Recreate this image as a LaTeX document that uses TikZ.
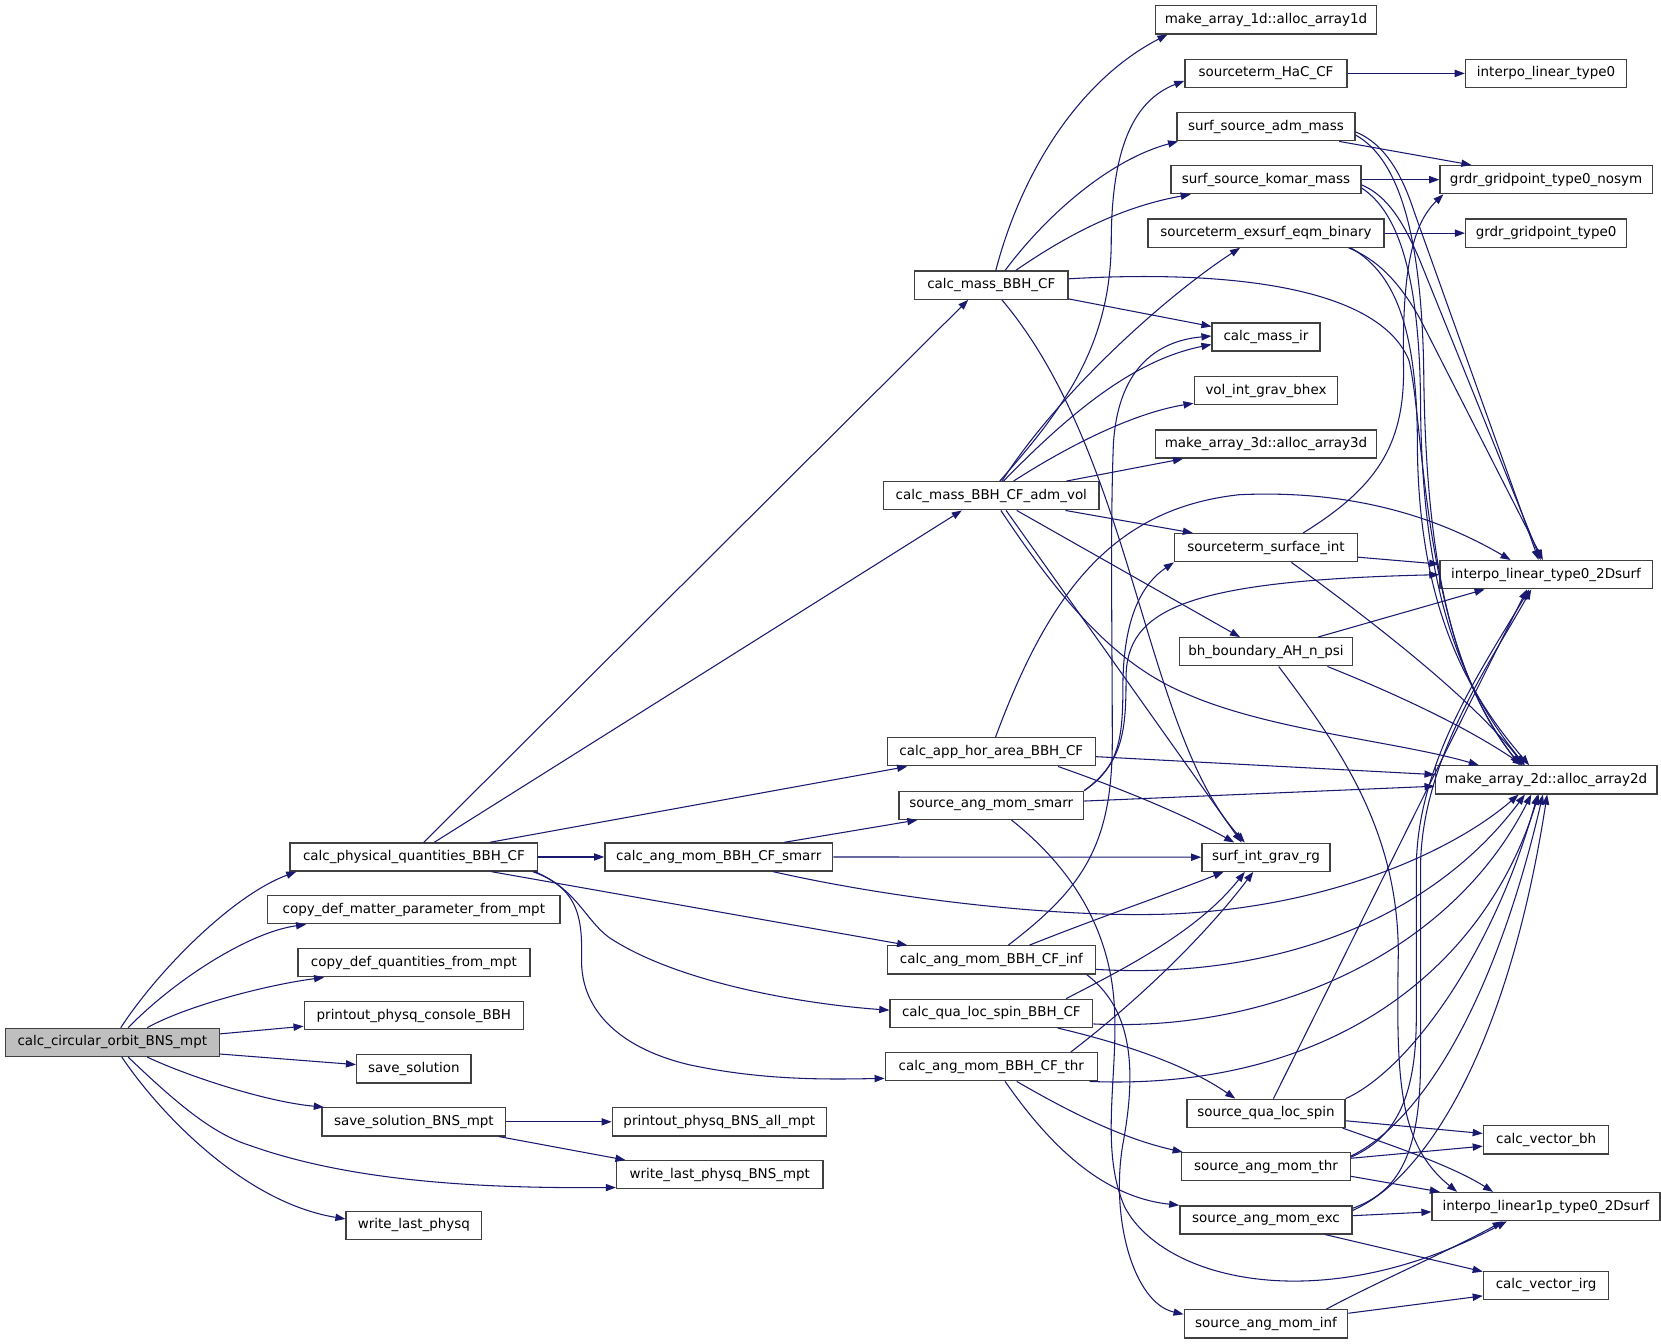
\documentclass[tikz,border=0pt]{standalone}
\usepackage{fontspec}
\setmainfont{DejaVu Sans}
\usetikzlibrary{arrows.meta,calc}
\definecolor{eb}{HTML}{191970}
\definecolor{bd}{HTML}{404040}
\definecolor{mf}{HTML}{BFBFBF}
\begin{document}
\begin{tikzpicture}[x=1pt,y=-1pt,
  box/.style={draw=bd,line width=1.25pt,minimum height=26.5pt,inner sep=0pt,fill=white,font=\fontsize{12.7pt}{15pt}\selectfont},
  e/.style={draw=eb,line width=1pt,-{Triangle[length=9.5pt,width=6.8pt]}}]
\useasboundingbox[fill=white] (0,0) rectangle (1568,1268);
% rank 0/1
\node[box,fill=mf,minimum width=202pt] (circ) at (106,984) {calc\_circular\_orbit\_BNS\_mpt};
\node[box,minimum width=234pt] (phys) at (390.7,809) {calc\_physical\_quantities\_BBH\_CF};
\node[box,minimum width=276pt] (cmatter) at (390.7,858.8) {copy\_def\_matter\_parameter\_from\_mpt};
\node[box,minimum width=219pt] (cquant) at (390.7,908.8) {copy\_def\_quantities\_from\_mpt};
\node[box,minimum width=207pt] (pconsole) at (390.7,958.8) {printout\_physq\_console\_BBH};
\node[box,minimum width=108pt] (save) at (390.7,1009) {save\_solution};
\node[box,minimum width=173.5pt] (saveBNS) at (390.7,1059) {save\_solution\_BNS\_mpt};
\node[box,minimum width=128pt] (wlast) at (390.7,1156.7) {write\_last\_physq};
% rank 2
\node[box,minimum width=202pt] (pBNSall) at (679,1059) {printout\_physq\_BNS\_all\_mpt};
\node[box,minimum width=195pt] (wlastBNS) at (679.5,1109) {write\_last\_physq\_BNS\_mpt};
\node[box,minimum width=215pt] (amsmarr) at (678.5,809) {calc\_ang\_mom\_BBH\_CF\_smarr};
% rank 3
\node[box,minimum width=145pt] (massBBH) at (935.8,269.2) {calc\_mass\_BBH\_CF};
\node[box,minimum width=203.6pt] (admvol) at (935.8,468) {calc\_mass\_BBH\_CF\_adm\_vol};
\node[box,minimum width=196.5pt] (apphor) at (935.8,709.7) {calc\_app\_hor\_area\_BBH\_CF};
\node[box,minimum width=174.2pt] (smarr) at (935.8,760.2) {source\_ang\_mom\_smarr};
\node[box,minimum width=196.5pt] (aminf) at (935.8,906.1) {calc\_ang\_mom\_BBH\_CF\_inf};
\node[box,minimum width=191.3pt] (qls) at (935.8,956.6) {calc\_qua\_loc\_spin\_BBH\_CF};
\node[box,minimum width=200.2pt] (amthr) at (935.8,1007) {calc\_ang\_mom\_BBH\_CF\_thr};
% rank 4
\node[box,minimum width=208.4pt] (arr1d) at (1195.1,18.7) {make\_array\_1d::alloc\_array1d};
\node[box,minimum width=153pt] (hac) at (1195.1,69.3) {sourceterm\_HaC\_CF};
\node[box,minimum width=168.3pt] (admmass) at (1195.1,119.6) {surf\_source\_adm\_mass};
\node[box,minimum width=179.6pt] (komar) at (1195.1,169.6) {surf\_source\_komar\_mass};
\node[box,minimum width=222.7pt] (exsurf) at (1195.1,220.1) {sourceterm\_exsurf\_eqm\_binary};
\node[box,minimum width=101.7pt] (massir) at (1195.1,318.2) {calc\_mass\_ir};
\node[box,minimum width=135.5pt] (volint) at (1195.1,368.8) {vol\_int\_grav\_bhex};
\node[box,minimum width=208.4pt] (arr3d) at (1195.1,419.2) {make\_array\_3d::alloc\_array3d};
\node[box,minimum width=172.7pt] (stsurf) at (1195.1,517) {sourceterm\_surface\_int};
\node[box,minimum width=163.6pt] (bhbound) at (1195.1,615.3) {bh\_boundary\_AH\_n\_psi};
\node[box,minimum width=121pt] (sigrg) at (1195.1,809.2) {surf\_int\_grav\_rg};
\node[box,minimum width=149.1pt] (sqls) at (1195.1,1051) {source\_qua\_loc\_spin};
\node[box,minimum width=159pt] (samthr) at (1195.1,1101.4) {source\_ang\_mom\_thr};
\node[box,minimum width=162.6pt] (samexc) at (1195.1,1151.6) {source\_ang\_mom\_exc};
\node[box,minimum width=154.3pt] (saminf) at (1195.1,1249.7) {source\_ang\_mom\_inf};
% rank 5
\node[box,minimum width=152.2pt] (ilt0) at (1459.5,69.3) {interpo\_linear\_type0};
\node[box,minimum width=200.4pt] (grdrns) at (1459.5,169.6) {grdr\_gridpoint\_type0\_nosym};
\node[box,minimum width=152pt] (grdr0) at (1459.5,220.1) {grdr\_gridpoint\_type0};
\node[box,minimum width=200.4pt] (ilt2d) at (1459.5,542.5) {interpo\_linear\_type0\_2Dsurf};
\node[box,minimum width=209.3pt] (arr2d) at (1459.5,736.2) {make\_array\_2d::alloc\_array2d};
\node[box,minimum width=118.3pt] (cvbh) at (1459.5,1076) {calc\_vector\_bh};
\node[box,minimum width=215.2pt] (il1p) at (1459.5,1139) {interpo\_linear1p\_type0\_2Dsurf};
\node[box,minimum width=118.3pt] (cvirg) at (1459.5,1213.3) {calc\_vector\_irg};
% edges from circ
\draw[e] ($(circ.north)+(8,0)$) .. controls (150,915) and (220,845) .. ($(phys.south)+(-111,0)$);
\draw[e] ($(circ.north)+(15,0)$) .. controls (165,925) and (235,880) .. ($(cmatter.south)+(-101.7,0)$);
\draw[e] ($(circ.north)+(33,0)$) .. controls (175,950) and (250,930) .. ($(cquant.south)+(-84.7,0)$);
\draw[e] ($(circ.east)+(0,-8)$) -- ($(pconsole.west)+(0,10)$);
\draw[e] ($(circ.east)+(0,11)$) -- ($(save.west)+(0,-4)$);
\draw[e] ($(circ.south)+(33,0)$) .. controls (175,1015) and (250,1040) .. ($(saveBNS.north)+(-85,0)$);
\draw[e] ($(circ.south)+(15,0)$) .. controls (165,1040) and (200,1070) .. (235,1081) .. controls (330,1115) and (450,1122) .. ($(wlastBNS.west)+(0,12)$);
\draw[e] ($(circ.south)+(9,0)$) .. controls (150,1050) and (230,1135) .. ($(wlast.west)+(0,-6)$);
\draw[e] (saveBNS.east) -- (pBNSall.west);
\draw[e] ($(saveBNS.south)+(80,0)$) -- ($(wlastBNS.north)+(-89,0)$);
% from phys
\draw[e] ($(phys.north)+(9.3,0)$) -- ($(massBBH.south)+(-21.8,0)$);
\draw[e] ($(phys.north)+(19.3,0)$) -- ($(admvol.south)+(-27.8,0)$);
\draw[e] ($(phys.north)+(71.8,0)$) -- ($(apphor.south)+(-79.4,0)$);
\draw[e] (phys.east) -- (amsmarr.west);
\draw[e] ($(phys.south)+(73.3,0)$) -- ($(aminf.north)+(-79.4,0)$);
\draw[e] ($(phys.south)+(114.3,0)$) .. controls (545,840) and (552,868) .. (575,885) .. controls (640,928) and (760,948) .. ($(qls.west)+(0,-3)$);
\draw[e] ($(phys.south)+(112.3,0)$) .. controls (545,838) and (550,865) .. (549,905) .. controls (548,950) and (580,988) .. (650,1005) .. controls (720,1020) and (780,1019) .. ($(amthr.west)+(0,11)$);
% from amsmarr
\draw[e] ($(amsmarr.north)+(62,0)$) -- ($(smarr.south)+(-69.8,0)$);
\draw[e] (amsmarr.east) -- (sigrg.west);
\draw[e] ($(amsmarr.south)+(51.5,0)$) .. controls (850,850) and (1000,866) .. (1100,863) .. controls (1250,858) and (1370,805) .. ($(arr2d.south)+(-26,0)$);
% from massBBH
\draw[e] ($(massBBH.north)+(4.2,0)$) .. controls (965,160) and (1020,75) .. ($(arr1d.south)+(-93,0)$);
\draw[e] ($(massBBH.north)+(13,0)$) .. controls (990,200) and (1050,150) .. ($(admmass.south)+(-83,0)$);
\draw[e] ($(massBBH.north)+(23,0)$) .. controls (1010,220) and (1060,195) .. ($(komar.south)+(-71,0)$);
\draw[e] ($(massBBH.east)+(0,-6)$) .. controls (1150,255) and (1300,268) .. (1330,340) .. controls (1345,400) and (1342,610) .. ($(arr2d.north)+(-24,0)$);
\draw[e] ($(massBBH.east)+(0,13)$) -- ($(massir.west)+(0,-10)$);
\draw[e] ($(massBBH.south)+(10,0)$) .. controls (1070,430) and (1080,690) .. ($(sigrg.north)+(-20,0)$);
% from admvol
\draw[e] ($(admvol.north)+(8,0)$) .. controls (1000,390) and (1048,330) .. (1049,230) .. controls (1049,140) and (1070,95) .. ($(hac.west)+(0,7)$);
\draw[e] ($(admvol.north)+(10,0)$) .. controls (1000,370) and (1100,280) .. ($(exsurf.south)+(-24.5,0)$);
\draw[e] ($(admvol.north)+(11.5,0)$) .. controls (1010,390) and (1070,340) .. ($(massir.west)+(0,7)$);
\draw[e] ($(admvol.north)+(21,0)$) .. controls (1010,420) and (1070,390) .. ($(volint.south west)+(0,-2)$);
\draw[e] ($(admvol.north)+(71,0)$) -- ($(arr3d.south)+(-78.3,0)$);
\draw[e] ($(admvol.south)+(70,0)$) -- ($(stsurf.north)+(-69,0)$);
\draw[e] ($(admvol.south)+(24,0)$) -- ($(bhbound.north)+(-24.5,0)$);
\draw[e] ($(admvol.south)+(9,0)$) .. controls (1010,580) and (1060,630) .. (1120,655) .. controls (1200,690) and (1320,700) .. ($(arr2d.north)+(-63.5,0)$);
\draw[e] ($(admvol.south)+(14,0)$) -- ($(sigrg.north)+(-23,0)$);
% from apphor
\draw[e] ($(apphor.north)+(4,0)$) .. controls (990,560) and (1050,480) .. (1170,467) .. controls (1280,462) and (1360,490) .. ($(ilt2d.north)+(-33.5,0)$);
\draw[e] ($(apphor.east)+(0,4.6)$) -- ($(arr2d.west)+(0,-5)$);
\draw[e] ($(apphor.south)+(63,0)$) .. controls (1060,745) and (1120,770) .. ($(sigrg.north)+(-30,0)$);
% from smarr
\draw[e] ($(smarr.east)+(0,-4)$) -- ($(arr2d.west)+(0,6)$);
\draw[e] (smarr.north east) .. controls (1055,725) and (1060,700) .. (1060,650) .. controls (1060,580) and (1080,550) .. (stsurf.south west);
\draw[e] (smarr.north east) .. controls (1060,720) and (1063,690) .. (1063,640) .. controls (1063,575) and (1120,548) .. (ilt2d.west);
\draw[e] ($(smarr.south)+(19,0)$) .. controls (1000,810) and (1040,860) .. (1050,930) .. controls (1060,1000) and (1035,1080) .. (1062,1140) .. controls (1100,1210) and (1250,1245) .. ($(il1p.south)+(-37,0)$);
% from aminf
\draw[e] ($(aminf.north)+(36,0)$) .. controls (1040,865) and (1100,845) .. ($(sigrg.south)+(-40,0)$);
\draw[e] ($(aminf.north)+(16,0)$) .. controls (1020,840) and (1050,800) .. (1050,700) .. controls (1050,600) and (1048,500) .. (1051,420) .. controls (1055,350) and (1090,322) .. ($(massir.west)+(0,-1)$);
\draw[e] ($(aminf.east)+(0,9)$) .. controls (1200,925) and (1350,870) .. ($(arr2d.south)+(-20,0)$);
\draw[e] ($(aminf.south)+(90,0)$) .. controls (1065,950) and (1075,1000) .. (1060,1080) .. controls (1048,1150) and (1070,1230) .. ($(saminf.west)+(0,-9)$);
% from qls
\draw[e] ($(qls.north)+(70.6,0)$) .. controls (1060,915) and (1130,880) .. ($(sigrg.south)+(-20,0)$);
\draw[e] ($(qls.east)+(0,10)$) .. controls (1200,975) and (1370,900) .. ($(arr2d.south)+(-14,0)$);
\draw[e] ($(qls.south)+(62.6,0)$) .. controls (1060,985) and (1120,1005) .. ($(sqls.north)+(-29,0)$);
% from amthr
\draw[e] ($(amthr.north)+(75,0)$) .. controls (1080,940) and (1140,880) .. ($(sigrg.south)+(-12,0)$);
\draw[e] ($(amthr.south east)+(-8,0)$) .. controls (1250,1030) and (1400,920) .. ($(arr2d.south)+(-7,0)$);
\draw[e] ($(amthr.south)+(24,0)$) .. controls (1010,1050) and (1060,1075) .. ($(samthr.north west)+(1.5,0)$);
\draw[e] ($(amthr.south)+(13,0)$) .. controls (990,1080) and (1040,1130) .. (samexc.north west);
% from stsurf
\draw[e] ($(stsurf.north)+(35,0)$) .. controls (1300,460) and (1325,420) .. (1325,350) .. controls (1323,250) and (1335,210) .. ($(grdrns.south)+(-97,0)$);
\draw[e] ($(stsurf.east)+(0,9)$) -- ($(ilt2d.west)+(0,-10)$);
\draw[e] ($(stsurf.south)+(24,0)$) .. controls (1300,590) and (1390,660) .. ($(arr2d.north)+(-21,0)$);
% from bhbound
\draw[e] ($(bhbound.north)+(49,0)$) -- ($(ilt2d.south)+(-58,0)$);
\draw[e] ($(bhbound.south)+(58,0)$) .. controls (1330,660) and (1390,690) .. ($(arr2d.north)+(-22,0)$);
\draw[e] ($(bhbound.south)+(12,0)$) .. controls (1260,700) and (1320,780) .. (1320,900) .. controls (1318,1020) and (1320,1080) .. ($(il1p.north)+(-84,0)$);
% upper rank-4 nodes
\draw[e] ($(admmass.south)+(69,0)$) -- ($(grdrns.north)+(-70.5,0)$);
\draw[e] ($(admmass.east)+(0,5)$) .. controls (1305,135) and (1322,160) .. (1335,200) -- ($(ilt2d.north)+(-7,0)$);
\draw[e] ($(admmass.east)+(0,8)$) .. controls (1320,150) and (1342,220) .. (1344,350) .. controls (1346,560) and (1380,650) .. ($(arr2d.north)+(-25,0)$);
\draw[e] (komar.east) -- (grdrns.west);
\draw[e] ($(komar.east)+(0,5)$) .. controls (1310,185) and (1325,210) .. (1340,245) -- ($(ilt2d.north)+(-5,0)$);
\draw[e] ($(komar.east)+(0,8)$) .. controls (1320,200) and (1340,260) .. (1341,380) .. controls (1342,570) and (1385,655) .. ($(arr2d.north)+(-20,0)$);
\draw[e] (exsurf.east) -- (grdr0.west);
\draw[e] ($(exsurf.south)+(78,0)$) .. controls (1300,245) and (1320,265) .. (1340,300) -- ($(ilt2d.north)+(-3,0)$);
\draw[e] ($(exsurf.south)+(80,0)$) .. controls (1312,255) and (1338,300) .. (1338,420) .. controls (1339,580) and (1390,660) .. ($(arr2d.north)+(-16,0)$);
\draw[e] (hac.east) -- (ilt0.west);
% lower rank-4 nodes
\draw[e] ($(sqls.north)+(7,0)$) .. controls (1262,917) and (1381,676) .. ($(ilt2d.south)+(-18,0)$);
\draw[e] (sqls.north east) .. controls (1330,1010) and (1410,900) .. ($(arr2d.south)+(-8,0)$);
\draw[e] ($(sqls.east)+(0,7)$) -- ($(cvbh.west)+(0,-6)$);
\draw[e] ($(sqls.south east)+(-3,0)$) .. controls (1310,1080) and (1370,1100) .. ($(il1p.north)+(-50,0)$);
\draw[e] ($(samthr.east)+(0,-8)$) -- ($(cvbh.west)+(0,6)$);
\draw[e] ($(samthr.east)+(0,9)$) -- ($(il1p.north west)+(8,0)$);
\draw[e] ($(samthr.east)+(0,-9)$) .. controls (1315,1075) and (1337,1040) .. (1337,960) -- (1337,820) .. controls (1337,720) and (1400,630) .. ($(ilt2d.south)+(-16,0)$);
\draw[e] ($(samthr.east)+(0,-10)$) .. controls (1340,1060) and (1410,950) .. ($(arr2d.south)+(-3,0)$);
\draw[e] ($(samexc.east)+(0,-11)$) .. controls (1320,1125) and (1341,1090) .. (1341,1000) -- (1341,820) .. controls (1341,720) and (1404,630) .. ($(ilt2d.south)+(-14,0)$);
\draw[e] ($(samexc.east)+(0,-9)$) .. controls (1350,1110) and (1425,980) .. ($(arr2d.south)+(1,0)$);
\draw[e] ($(samexc.east)+(0,-4)$) -- ($(il1p.west)+(0,5)$);
\draw[e] ($(samexc.south)+(56,0)$) -- ($(cvirg.north west)+(0,1)$);
\draw[e] ($(saminf.east)+(0,-10)$) -- ($(cvirg.west)+(0,10)$);
\draw[e] ($(saminf.north)+(57,0)$) .. controls (1300,1210) and (1370,1180) .. ($(il1p.south)+(-41,0)$);
\end{tikzpicture}
\end{document}
